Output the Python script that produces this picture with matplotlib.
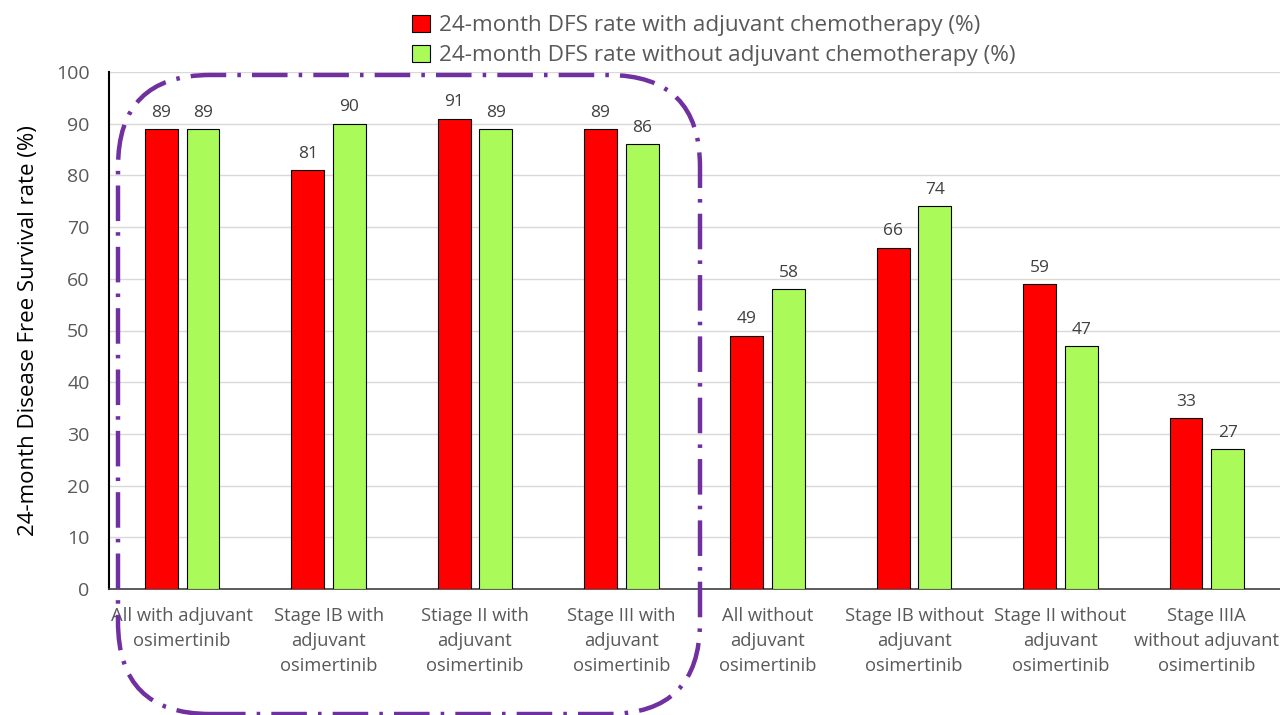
import matplotlib
matplotlib.use("Agg")
import matplotlib.pyplot as plt
from matplotlib.patches import FancyBboxPatch
from matplotlib.transforms import IdentityTransform
import numpy as np

plt.rcParams['font.family'] = ['Open Sans', 'DejaVu Sans']

categories = ['All with adjuvant\nosimertinib', 'Stage IB with\nadjuvant\nosimertinib',
              'Stiage II with\nadjuvant\nosimertinib', 'Stage III with\nadjuvant\nosimertinib',
              'All without\nadjuvant\nosimertinib', 'Stage IB without\nadjuvant\nosimertinib',
              'Stage II without\nadjuvant\nosimertinib', 'Stage IIIA\nwithout adjuvant\nosimertinib']
with_chemo = [89, 81, 91, 89, 49, 66, 59, 33]
without_chemo = [89, 90, 89, 86, 58, 74, 47, 27]
series_names = ['24-month DFS rate with adjuvant chemotherapy (%)',
                '24-month DFS rate without adjuvant chemotherapy (%)']

grey = '#595959'
fig = plt.figure(figsize=(12.8, 7.15), dpi=100)
ax = fig.add_axes([109 / 1280, 1 - 589 / 715, 1171 / 1280, 517 / 715])

x = np.arange(len(categories))
w = 0.225
off = 0.142
b1 = ax.bar(x - off, with_chemo, w, color='#FF0000', edgecolor='black', linewidth=0.8,
            label=series_names[0], zorder=3)
b2 = ax.bar(x + off, without_chemo, w, color='#AAFA5A', edgecolor='black', linewidth=0.8,
            label=series_names[1], zorder=3)
for bars in (b1, b2):
    for r in bars:
        ax.annotate(f'{r.get_height():.0f}', (r.get_x() + r.get_width() / 2, r.get_height()),
                    xytext=(0, 6), textcoords='offset points', ha='center', va='bottom',
                    fontsize=12.5, color='#404040')

ax.set_xlim(-0.5, len(categories) - 0.5)
ax.set_ylim(0, 100)
ax.set_yticks(range(0, 101, 10))
ax.grid(axis='y', color='#D9D9D9', linewidth=1, zorder=0)
ax.set_xticks(x)
ax.set_xticklabels(categories, fontsize=13.2, color=grey, linespacing=1.5)
ax.tick_params(axis='y', labelsize=14, colors=grey, length=0, pad=14)
ax.tick_params(axis='x', length=0, pad=13)
for s in ['top', 'right']:
    ax.spines[s].set_visible(False)
ax.spines['left'].set_color('black')
ax.spines['left'].set_linewidth(1.5)
ax.spines['bottom'].set_color('#404040')
ax.spines['bottom'].set_linewidth(1.2)
ax.set_ylabel('24-month Disease Free Survival rate (%)', fontsize=16, color='black', labelpad=12)

leg = fig.legend(loc='upper center', bbox_to_anchor=(0.558, 1.008), frameon=False, fontsize=16.2,
                 handlelength=0.8, handleheight=0.8, handletextpad=0.4, labelspacing=0.4)
for t in leg.get_texts():
    t.set_color(grey)

# purple rounded dash-dot frame, in pixel coordinates (y measured from the bottom)
box = FancyBboxPatch((118, 715 - 714), 582, 639,
                     boxstyle='round,pad=0,rounding_size=92', transform=IdentityTransform(),
                     fill=False, edgecolor='#7030A0', linewidth=3.2,
                     linestyle=(0, (8, 2.5, 0.8, 2.5)), zorder=10, clip_on=False)
fig.patches.append(box)

fig.savefig('out.png', dpi=100)
